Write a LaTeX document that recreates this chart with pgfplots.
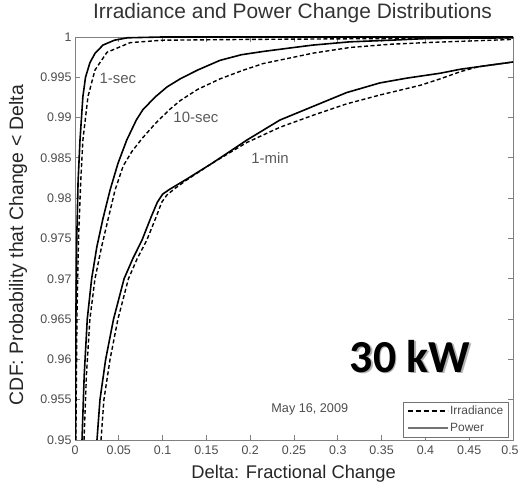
\documentclass[border=0pt]{standalone}
\usepackage{pgfplots}
\pgfplotsset{compat=1.18}
\usepackage{fontspec}
\setmainfont{Liberation Sans}
\newfontfamily\calibri{Carlito}

% Empirical CDFs of fractional change, power (solid) and irradiance (dashed)
\pgfplotstableread{
x y
0.0005 0.950
0.0010 0.965
0.0020 0.975
0.0035 0.982
0.0057 0.9872
0.0090 0.9926
0.0120 0.9950
0.0170 0.9968
0.0230 0.9980
0.0320 0.9990
0.0450 0.9996
0.0600 0.9999
0.1000 1.0000
0.5000 1.0000
}\secpower
\pgfplotstableread{
x y
0.0010 0.950
0.0022 0.965
0.0040 0.975
0.0065 0.982
0.0090 0.9872
0.0148 0.9926
0.0228 0.9959
0.0365 0.9981
0.0630 0.9993
0.1000 0.9996
0.2000 0.9997
0.3500 0.9998
0.5000 0.9999
}\secirr
\pgfplotstableread{
x y
0.0080 0.950
0.0105 0.958
0.0140 0.965
0.0190 0.970
0.0250 0.974
0.0320 0.9775
0.0400 0.981
0.0490 0.9843
0.0590 0.9872
0.0700 0.9897
0.0776 0.9910
0.0920 0.9926
0.1050 0.9938
0.1200 0.9948
0.1400 0.9959
0.1655 0.9971
0.1900 0.9978
0.2146 0.9982
0.2500 0.9987
0.2720 0.9990
0.3140 0.9994
0.3600 0.9996
0.4000 0.9998
0.5000 0.9999
}\tensecpower
\pgfplotstableread{
x y
0.0103 0.950
0.0130 0.958
0.0170 0.965
0.0228 0.970
0.0300 0.9738
0.0380 0.9775
0.0457 0.9810
0.0550 0.9840
0.0650 0.9858
0.0765 0.9874
0.0920 0.9893
0.1080 0.9910
0.1200 0.9921
0.1400 0.9935
0.1655 0.9948
0.1900 0.9958
0.2146 0.9967
0.2500 0.9975
0.2720 0.9980
0.3140 0.9987
0.3600 0.9991
0.4000 0.9993
0.4500 0.9995
0.5000 0.9997
}\tensecirr
\pgfplotstableread{
x y
0.0251 0.950
0.0285 0.955
0.0350 0.960
0.0440 0.965
0.0560 0.970
0.0660 0.9725
0.0765 0.9748
0.0870 0.9777
0.0940 0.9795
0.1000 0.9805
0.1080 0.9811
0.1280 0.9824
0.1575 0.9844
0.1960 0.9872
0.2340 0.9897
0.2720 0.9914
0.3100 0.9931
0.3480 0.9943
0.3790 0.9949
0.4167 0.9955
0.4400 0.9960
0.4600 0.9963
0.5000 0.9969
}\minpower
\pgfplotstableread{
x y
0.0297 0.950
0.0330 0.955
0.0400 0.960
0.0490 0.965
0.0610 0.970
0.0710 0.9725
0.0820 0.9748
0.0920 0.9775
0.0990 0.9795
0.1050 0.9804
0.1140 0.9812
0.1280 0.9823
0.1575 0.9844
0.1960 0.9869
0.2340 0.9888
0.2720 0.9903
0.3100 0.9917
0.3480 0.9928
0.3940 0.9940
0.4167 0.9948
0.4400 0.9957
0.4600 0.9963
0.5000 0.9969
}\minirr

\begin{document}
\begin{tikzpicture}[x=1bp,y=1bp]
\useasboundingbox (0,0) rectangle (520,486);
\begin{axis}[
  at={(75bp,46bp)}, anchor=south west,
  scale only axis, width=438bp, height=403bp,
  xmin=0, xmax=0.5, ymin=0.95, ymax=1,
  xtick={0,0.05,0.1,0.15,0.2,0.25,0.3,0.35,0.4,0.45,0.5},
  xticklabels={0,0.05,0.1,0.15,0.2,0.25,0.3,0.35,0.4,0.45,\hspace*{-6bp}0.5},
  ytick={0.95,0.955,0.96,0.965,0.97,0.975,0.98,0.985,0.99,0.995,1},
  scaled ticks=false,
  /pgf/number format/assume math mode=true,
  xticklabel style={font=\fontsize{12.5}{13}\selectfont, text=black!70, yshift=-2bp},
  yticklabel style={font=\fontsize{12.5}{13}\selectfont, text=black!70,
    /pgf/number format/fixed, /pgf/number format/precision=3},
  axis line style={black!50, line width=0.9bp},
  tick style={black!50, line width=0.8bp},
  major tick length=5bp,
  title={Irradiance and Power Change Distributions},
  title style={at={(axis description cs:0.4966,1.0298)}, anchor=base,
    font=\fontsize{21}{24}\selectfont, text=black!80},
  xlabel={Delta: Fractional Change},
  xlabel style={at={(axis description cs:0.499,-0.0844)}, anchor=center,
    font=\fontsize{18.4}{20}\selectfont, text=black!85},
  ylabel={CDF: Probability that Change < Delta},
  ylabel style={at={(axis description cs:-0.130,0.484)}, anchor=center, rotate=0,
    font=\fontsize{19.5}{21}\selectfont, text=black!85},
  legend style={at={(axis description cs:0.9886,0.0074)}, anchor=south east,
    draw=black!55, fill=white, font=\fontsize{12}{12}\selectfont, text=black!70,
    inner xsep=3bp, inner ysep=2bp, row sep=3bp,
    nodes={inner sep=1.5bp, text height=9bp, text depth=2bp}},
  legend cell align=left,
  legend image code/.code={\draw[#1] (0bp,0bp) -- (40bp,0bp);},
  clip=true,
]
\addlegendimage{black, line width=1.4bp, dash pattern=on 5bp off 3bp}
\addlegendentry{Irradiance}
\addlegendimage{black!55, line width=2.2bp}
\addlegendentry{Power}

\pgfplotsset{pw/.style={black, line width=1.6bp, forget plot},
             ir/.style={black, line width=1.4bp, dash pattern=on 4bp off 2.5bp, forget plot}}
\addplot[ir] table {\secirr};
\addplot[pw] table {\secpower};
\addplot[ir] table {\tensecirr};
\addplot[pw] table {\tensecpower};
\addplot[ir] table {\minirr};
\addplot[pw] table {\minpower};

\node[font=\fontsize{15}{16}\selectfont, text=black!65] at (axis cs:0.049,0.9949) {1-sec};
\node[font=\fontsize{15}{16}\selectfont, text=black!65] at (axis cs:0.138,0.9900) {10-sec};
\node[font=\fontsize{15}{16}\selectfont, text=black!65] at (axis cs:0.2226,0.9850) {1-min};
\node[font=\fontsize{12.7}{13}\selectfont, text=black!70] at (axis cs:0.268,0.9538) {May 16, 2009};
\node[font=\calibri\bfseries\fontsize{46}{48}\selectfont, text=black!30, xshift=1.5bp, yshift=-1.5bp]
  at (axis cs:0.3824,0.9604) {30 kW};
\node[font=\calibri\bfseries\fontsize{46}{48}\selectfont, text=black]
  at (axis cs:0.3824,0.9604) {30 kW};
\end{axis}
\end{tikzpicture}
\end{document}
